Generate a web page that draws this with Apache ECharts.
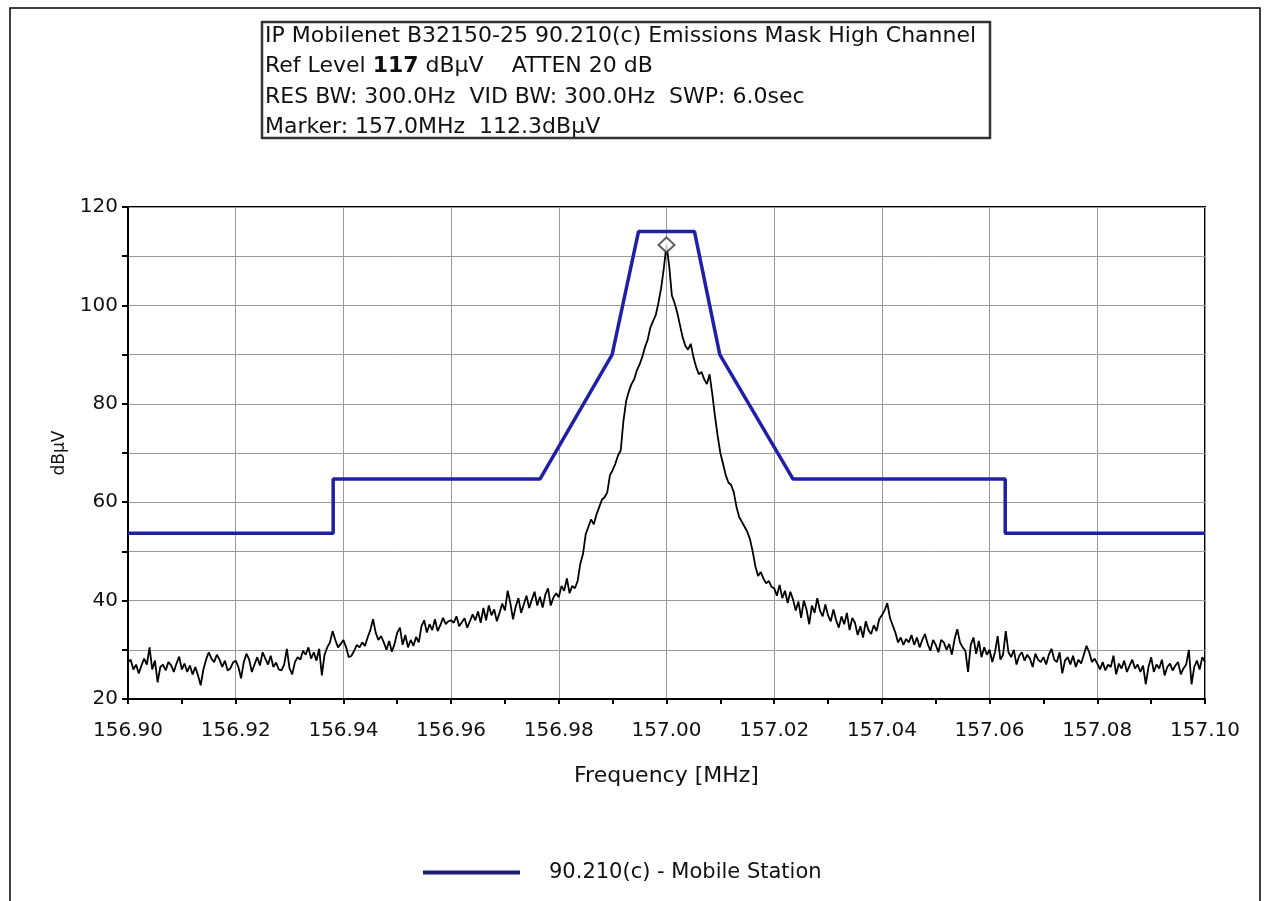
<!DOCTYPE html>
<html>
<head>
<meta charset="utf-8">
<title>Emissions Mask High Channel</title>
<script src="https://cdn.jsdelivr.net/npm/echarts@6/dist/echarts.min.js"></script>
<style>
html, body { margin: 0; padding: 0; background: #fff; }
#main { width: 1268px; height: 901px; }
</style>
</head>
<body>
<div id="main"></div>
<script>
// mask (blue) corner points
var maskFreq = [156.90, 156.9381, 156.9381, 156.9765, 156.9899, 156.9948, 157.0052, 157.0099, 157.0235, 157.0629, 157.0629, 157.10];
var maskLevel = [53.7, 53.7, 64.7, 64.7, 90, 115, 115, 90, 64.7, 64.7, 53.7, 53.7];

// measured trace, one value every 0.0005 MHz from 156.90 to 157.10 (rows of 0.01 MHz)
var traceStart = 156.90;
var traceStep = 0.0005;
var traceLevel = [
	27.5, 28.0, 26.0, 27.0, 25.2, 26.8, 28.2, 27.0, 30.5, 26.0, 27.8, 23.4, 26.5, 27.0, 25.8, 27.5, 26.9, 25.5, 27.2, 28.6,
	26.0, 27.2, 25.5, 26.8, 25.0, 26.5, 24.8, 22.8, 26.0, 28.0, 29.5, 28.2, 27.5, 29.0, 28.0, 26.5, 27.8, 25.8, 26.2, 27.4,
	27.8, 26.5, 24.2, 27.5, 29.2, 28.0, 25.5, 27.0, 28.5, 26.8, 29.5, 28.2, 27.0, 28.8, 26.5, 27.4, 26.0, 25.8, 27.0, 30.2,
	26.2, 25.0, 27.5, 28.5, 28.0, 29.8, 29.0, 30.5, 28.2, 29.5, 27.8, 30.2, 24.8, 29.0, 30.5, 31.5, 33.8, 32.0, 30.5, 31.2,
	32.0, 30.5, 28.5, 28.8, 29.8, 31.0, 30.5, 31.5, 30.8, 32.5, 34.0, 36.2, 33.5, 32.0, 32.8, 31.5, 30.0, 31.8, 29.6, 31.2,
	33.5, 34.5, 31.0, 33.0, 30.5, 32.0, 30.8, 32.6, 31.5, 34.8, 36.0, 33.5, 35.2, 34.0, 36.2, 33.8, 35.0, 36.5, 35.2, 35.8,
	36.0, 35.5, 36.8, 34.8, 35.6, 36.4, 34.5, 35.8, 37.2, 36.0, 37.8, 35.5, 38.5, 36.0, 39.0, 37.0, 38.2, 35.8, 37.5, 39.4,
	38.0, 42.0, 39.5, 36.2, 38.8, 40.5, 37.5, 39.2, 41.0, 38.5, 40.2, 41.8, 39.0, 40.8, 38.6, 41.2, 42.5, 39.0, 40.6, 41.5,
	40.7, 43.0, 42.0, 44.5, 41.5, 43.0, 42.5, 44.0, 47.5, 49.5, 53.5, 55.0, 56.5, 55.5, 57.5, 59.0, 60.5, 61.0, 62.0, 65.5,
	66.5, 67.8, 69.5, 70.5, 76.5, 80.5, 82.5, 84.0, 85.0, 86.8, 88.0, 89.5, 91.5, 93.0, 95.5, 96.8, 98.0, 100.5, 103.5, 107.5,
	112.3, 108.0, 102.0, 100.5, 98.5, 96.0, 93.5, 91.8, 91.0, 92.2, 89.5, 87.5, 86.0, 86.5, 85.0, 84.0, 86.0, 82.0, 77.5, 73.5,
	70.0, 67.8, 65.5, 64.0, 63.5, 62.0, 59.0, 57.0, 56.0, 55.0, 54.0, 52.5, 50.0, 47.0, 45.0, 45.8, 44.5, 43.5, 44.0, 42.8,
	42.5, 41.0, 43.2, 40.5, 42.0, 39.5, 41.8, 40.2, 38.0, 39.8, 36.5, 40.0, 38.2, 35.2, 39.0, 37.5, 40.5, 38.0, 36.8, 39.2,
	37.0, 35.8, 38.2, 36.0, 34.5, 36.8, 35.2, 37.5, 34.0, 36.5, 35.5, 33.0, 34.8, 32.5, 35.8, 34.0, 33.2, 35.0, 33.8, 36.2,
	37.0, 38.0, 39.5, 36.5, 35.0, 33.5, 31.5, 32.5, 31.0, 32.2, 31.5, 33.0, 31.0, 32.5, 30.5, 32.0, 33.2, 31.2, 29.8, 32.0,
	31.0, 29.5, 32.0, 31.5, 30.0, 31.2, 29.0, 32.2, 34.2, 31.5, 30.5, 29.8, 25.5, 31.0, 32.5, 29.2, 31.8, 28.5, 30.5, 29.0,
	30.0, 27.5, 29.5, 32.8, 28.0, 29.0, 33.8, 29.5, 28.5, 30.0, 27.0, 28.8, 29.5, 27.8, 29.0, 28.2, 26.5, 29.2, 28.0, 27.5,
	28.5, 27.0, 29.0, 30.2, 28.0, 27.5, 29.5, 25.2, 27.8, 28.5, 27.0, 28.8, 26.5, 28.0, 27.2, 29.0, 30.8, 29.5, 27.5, 28.2,
	27.2, 26.0, 27.5, 25.8, 27.0, 26.5, 28.8, 25.0, 27.2, 26.2, 27.8, 25.5, 26.8, 28.0, 26.2, 27.0, 25.5, 26.8, 23.0, 26.5,
	28.5, 25.5, 27.0, 26.2, 28.0, 24.8, 26.5, 27.2, 25.8, 26.8, 27.5, 25.0, 26.2, 27.0, 30.0, 23.0, 26.5, 27.8, 26.0, 28.5,
	27.5
];

// marker
var markerFreq = 157.00;
var markerLevel = 112.3;

// header box lines ({b|..} = bold part)
var headerLines = [
	'IP Mobilenet B32150-25 90.210(c) Emissions Mask High Channel',
	'Ref Level {b|117} dB\u00b5V    ATTEN 20 dB',
	'RES BW: 300.0Hz  VID BW: 300.0Hz  SWP: 6.0sec',
	'Marker: 157.0MHz  112.3dB\u00b5V'
];

var font = '"DejaVu Sans", "Liberation Sans", Arial, sans-serif';

var maskData = [];
for (var i = 0; i < maskFreq.length; i++) {
	maskData.push([maskFreq[i], maskLevel[i]]);
}
var traceData = [];
for (var j = 0; j < traceLevel.length; j++) {
	traceData.push([traceStart + j * traceStep, traceLevel[j]]);
}

var headerTexts = [];
for (var k = 0; k < headerLines.length; k++) {
	headerTexts.push({
		type: 'text',
		x: 265,
		y: 25 + k * 30.5,
		style: {
			text: headerLines[k],
			fill: '#111',
			font: '22px ' + font,
			rich: { b: { fontFamily: font, fontSize: 22, fontWeight: 'bold', fill: '#111' } }
		}
	});
}

var option = {
	animation: false,
	backgroundColor: '#fff',
	graphic: [
		{ type: 'rect', shape: { x: 10, y: 8, width: 1250, height: 900 }, style: { fill: 'none', stroke: '#000', lineWidth: 1.5 } },
		{ type: 'rect', shape: { x: 262, y: 22, width: 728, height: 116 }, style: { fill: '#fff', stroke: '#333', lineWidth: 2.5 } }
	].concat(headerTexts),
	grid: {
		left: 128,
		right: 63,
		top: 207,
		bottom: 202,
		show: true,
		borderColor: '#000',
		borderWidth: 2
	},
	legend: {
		data: [{ name: '90.210(c) - Mobile Station', icon: 'rect' }],
		left: 418,
		top: 857,
		itemWidth: 97,
		itemHeight: 4,
		itemGap: 30,
		itemStyle: { color: '#1e1c70' },
		textStyle: { fontFamily: font, fontSize: 21, color: '#111', padding: [0, 0, 0, 24] }
	},
	xAxis: {
		type: 'value',
		min: 156.90,
		max: 157.10,
		interval: 0.02,
		name: 'Frequency [MHz]',
		nameLocation: 'middle',
		nameGap: 66,
		nameTextStyle: { fontFamily: font, fontSize: 22, color: '#111' },
		axisLine: { lineStyle: { color: '#000', width: 2 } },
		axisTick: { show: true, length: 5, lineStyle: { color: '#000', width: 2 } },
		minorTick: { show: true, splitNumber: 2, length: 5, lineStyle: { color: '#000', width: 2 } },
		axisLabel: {
			fontFamily: font, fontSize: 20, color: '#111', margin: 22,
			formatter: function (v) { return v.toFixed(2); }
		},
		splitLine: { show: true, lineStyle: { color: '#9a9a9a', width: 1 } }
	},
	yAxis: {
		type: 'value',
		min: 20,
		max: 120,
		interval: 10,
		name: 'dB\u00b5V',
		nameLocation: 'middle',
		nameGap: 60,
		nameTextStyle: { fontFamily: font, fontSize: 17, color: '#111' },
		axisLine: { show: true, lineStyle: { color: '#000', width: 2 } },
		axisTick: { show: true, length: 6, lineStyle: { color: '#000', width: 2 } },
		axisLabel: {
			fontFamily: font, fontSize: 20, color: '#111', margin: 10,
			formatter: function (v) { return v % 20 === 0 ? String(v) : ''; }
		},
		splitLine: { show: true, lineStyle: { color: '#9a9a9a', width: 1 } }
	},
	series: [
		{
			name: 'trace',
			type: 'line',
			data: traceData,
			symbol: 'none',
			lineStyle: { color: '#000', width: 1.8 },
			itemStyle: { color: '#000' },
			z: 2
		},
		{
			name: '90.210(c) - Mobile Station',
			type: 'line',
			data: maskData,
			symbol: 'none',
			lineStyle: { color: '#1f1fa8', width: 3.5 },
			itemStyle: { color: '#1f1fa8' },
			z: 3
		},
		{
			name: 'marker',
			type: 'scatter',
			data: [[markerFreq, markerLevel]],
			symbol: 'diamond',
			symbolSize: [16, 15],
			itemStyle: { color: '#fff', borderColor: '#333', borderWidth: 2 },
			z: 4
		}
	]
};

var chart = echarts.init(document.getElementById('main'));
chart.setOption(option);
</script>
</body>
</html>
